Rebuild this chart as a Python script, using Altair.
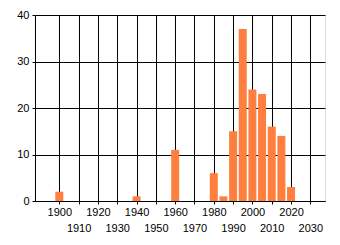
import altair as alt
import pandas as pd

years = [1900, 1940, 1960, 1980, 1985, 1990, 1995, 2000, 2005, 2010, 2015, 2020]
counts = [2, 1, 11, 6, 1, 15, 37, 24, 23, 16, 14, 3]
x_ticks = [1900, 1910, 1920, 1930, 1940, 1950, 1960, 1970, 1980, 1990, 2000, 2010, 2020, 2030]
y_ticks = [0, 10, 20, 30, 40]

df = pd.DataFrame({"year": years, "count": counts})

font = "Liberation Sans"

chart = alt.Chart(df).mark_bar(size=8, color="#ff7f3f").encode(
    x=alt.X("year:Q",
            scale=alt.Scale(domain=[1890, 2035], nice=False, zero=False),
            axis=alt.Axis(values=x_ticks, title=None, grid=True, gridColor="black",
                          gridOpacity=1, domainColor="black", tickColor="black",
                          tickSize=3, labelPadding=2, labelOverlap=False, labelFlush=False,
                          labelFont=font, labelFontSize=11, labelColor="black",
                          labelLineHeight=16, format="d",
                          labelExpr="datum.value % 20 == 0 ? datum.label : ['', datum.label]")),
    y=alt.Y("count:Q",
            scale=alt.Scale(domain=[0, 40], nice=False),
            axis=alt.Axis(values=y_ticks, title=None, grid=True, gridColor="black",
                          gridOpacity=1, domainColor="black", tickColor="black",
                          tickSize=3, labelPadding=3, labelFont=font, labelFontSize=11,
                          labelColor="black")),
).properties(
    width=290, height=186,
    autosize=alt.AutoSizeParams(type="none"),
    padding={"left": 35, "top": 15, "right": 15, "bottom": 44},
).configure_view(stroke=None).configure(background="white")

chart.save("out.html", embed_options={"renderer": "svg", "actions": False})
